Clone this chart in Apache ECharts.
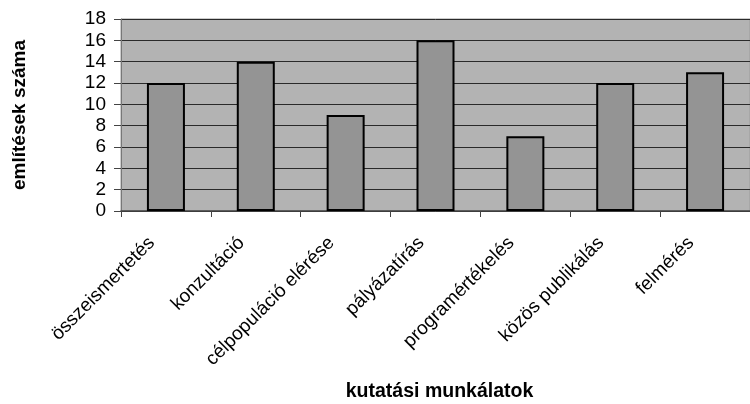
<!DOCTYPE html>
<html>
<head>
<meta charset="utf-8">
<script src="https://cdn.jsdelivr.net/npm/echarts@6/dist/echarts.min.js"></script>
<style>html,body{margin:0;padding:0;background:#fff}#c{width:750px;height:404px}</style>
</head>
<body>
<div id="c"></div>
<script>
var categories = ['összeismertetés','konzultáció','célpopuláció elérése','pályázatírás','programértékelés','közös publikálás','felmérés'];
var values = [12, 14, 9, 16, 7, 12, 13];
var yTicks = {min: 0, max: 18, interval: 2};
var xTitle = 'kutatási munkálatok';
var yTitle = 'említések száma';

var chart = echarts.init(document.getElementById('c'), null, {renderer: 'canvas'});
chart.setOption({
  animation: false,
  backgroundColor: '#fff',
  textStyle: {fontFamily: 'Liberation Sans, Arial, sans-serif'},
  grid: {left: 121, top: 19, right: -5, bottom: 193, show: true, backgroundColor: '#b3b3b3', borderColor: '#9a9a9a', borderWidth: 1},
  xAxis: {
    type: 'category', data: categories,
    name: xTitle, nameLocation: 'middle', nameGap: 171,
    nameTextStyle: {fontWeight: 'bold', fontSize: 19.5, color: '#000', fontFamily: 'Liberation Sans, Arial, sans-serif', padding: [0, 0, 0, 8]},
    axisLine: {show: true, lineStyle: {color: '#444', width: 1.5}},
    axisTick: {show: true, length: 6, lineStyle: {color: '#444'}},
    axisLabel: {interval: 0, rotate: 45, fontSize: 19, color: '#000', margin: 15, padding: [0, 20, 0, 0]}
  },
  yAxis: {
    type: 'value', min: yTicks.min, max: yTicks.max, interval: yTicks.interval,
    name: yTitle, nameLocation: 'middle', nameGap: 92, nameRotate: 90,
    nameTextStyle: {fontWeight: 'bold', fontSize: 19, color: '#000', fontFamily: 'Liberation Sans, Arial, sans-serif'},
    axisLine: {show: true, lineStyle: {color: '#777', width: 1}},
    axisTick: {show: true, length: 7, lineStyle: {color: '#444'}},
    axisLabel: {fontSize: 19, color: '#000', margin: 15},
    splitLine: {show: true, lineStyle: {color: '#2a2a2a', width: 1}}
  },
  series: [{
    type: 'bar', data: values, barWidth: 38,
    itemStyle: {color: '#949494', borderColor: '#000', borderWidth: 2}
  }]
});
</script>
</body>
</html>
